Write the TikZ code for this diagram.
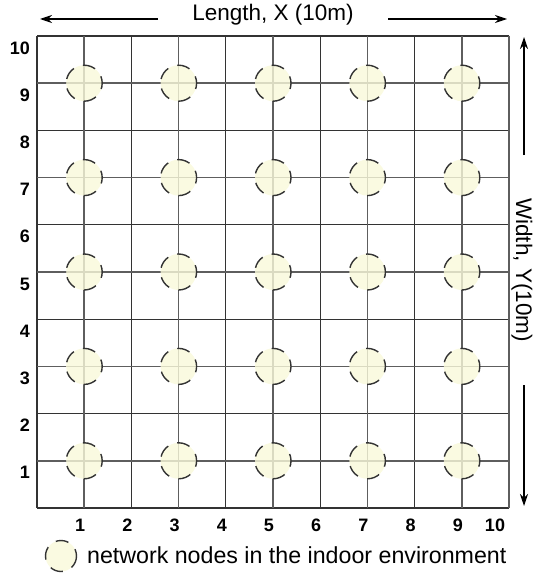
\documentclass[tikz,border=0pt]{standalone}
\usepackage{fontspec}
\setmainfont{Liberation Sans}
\usetikzlibrary{arrows.meta}
\definecolor{nodefill}{HTML}{F9F9DA}
\definecolor{gridodd}{HTML}{5E5E5E}
\definecolor{grideven}{HTML}{333333}
\definecolor{ringc}{HTML}{333333}
\begin{document}
\begin{tikzpicture}[x=1pt,y=-1pt,
  lbl/.style={font=\fontsize{18}{20}\selectfont\bfseries, inner sep=0pt},
  ttl/.style={font=\fontsize{22.5}{26}\selectfont, inner sep=0pt},
  legtext/.style={font=\fontsize{23.2}{27}\selectfont, inner sep=0pt},
  gridodd/.style={draw=gridodd, line width=1.7pt},
  grideven/.style={draw=grideven, line width=1.2pt},
  netnode/.style={circle, minimum size=36pt, inner sep=0pt, fill=nodefill, fill opacity=0.8,
    draw=ringc, draw opacity=1, line width=1.4pt, dash pattern=on 13pt off 9.6pt, dash phase=6pt},
  axarrow/.style={-{Stealth[length=12pt,width=8pt]}, line width=1.1pt, draw=black}]
\useasboundingbox (0,0) rectangle (543,578);
% grid
\foreach \i in {0,2,4,6,8,10} {
  \draw[grideven] ({37+\i*47.2},36) -- ({37+\i*47.2},508);
  \draw[grideven] (37,{508-\i*47.2}) -- (509,{508-\i*47.2});
}
\foreach \i in {1,3,5,7,9} {
  \draw[gridodd] ({37+\i*47.2},36) -- ({37+\i*47.2},508);
  \draw[gridodd] (37,{508-\i*47.2}) -- (509,{508-\i*47.2});
}
\draw[draw=gridodd, line width=1.4pt] (509,36) -- (509,508);
% network nodes
\foreach \i in {1,3,5,7,9} {
  \foreach \j in {1,3,5,7,9} {
    \node[netnode] (n-\i-\j) at ({37+\i*47.2},{508-\j*47.2}) {};
  }
}
% y labels
\foreach \k in {1,...,10} {
  \node[lbl, anchor=east] (yl-\k) at (30,{520-\k*47.2}) {\k};
}
% x labels
\foreach \k in {1,...,9} {
  \node[lbl] (xl-\k) at ({33+\k*47.2},525) {\k};
}
\node[lbl] (xl-10) at (495,525) {10};
% title and arrows
\node[ttl] (ttlx) at (273,15) {Length, X (10m)};
\coordinate (lxa) at (158,19);
\coordinate (lxb) at (40,19);
\coordinate (rxa) at (388,19);
\coordinate (rxb) at (507,19);
\draw[axarrow] (lxa) -- (lxb);
\draw[axarrow] (rxa) -- (rxb);
\node[ttl, rotate=-90] (ttly) at (522,270) {Width, Y(10m)};
\coordinate (uya) at (524,155);
\coordinate (uyb) at (524,37);
\coordinate (dya) at (524,385);
\coordinate (dyb) at (524,506);
\draw[axarrow] (uya) -- (uyb);
\draw[axarrow] (dya) -- (dyb);
% legend
\node[netnode, minimum size=31pt] (legc) at (61,556) {};
\node[legtext, anchor=west] (legt) at (87,555) {network nodes in the indoor environment};
\end{tikzpicture}
\end{document}
